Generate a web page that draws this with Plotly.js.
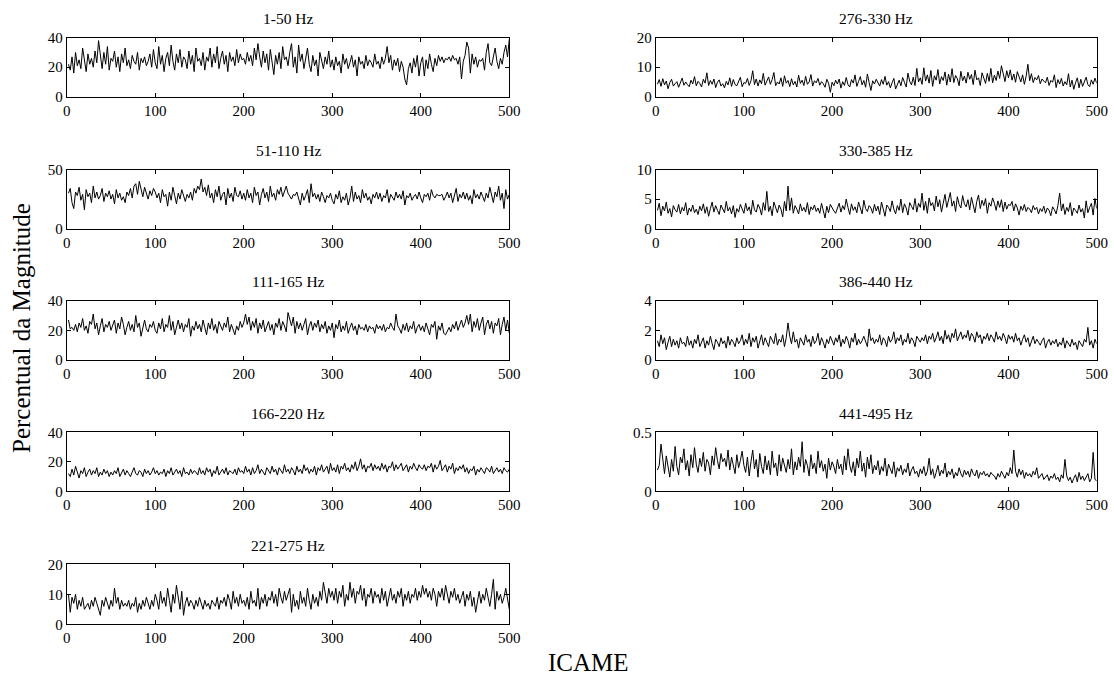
<!DOCTYPE html>
<html>
<head>
<meta charset="utf-8">
<script src="https://cdn.plot.ly/plotly-3.0.1.min.js"></script>
<style>html,body{margin:0;padding:0;background:#fff;}#chart{width:1114px;height:675px;}</style>
</head>
<body>
<div id="chart"></div>
<script>
// Sample index step (ICAME) : each value covers 2 ICAME units
const titles = ["1-50 Hz","51-110 Hz","111-165 Hz","166-220 Hz","221-275 Hz","276-330 Hz","330-385 Hz","386-440 Hz","441-495 Hz"];
const yMax = [40,50,40,40,20,20,10,4,0.5];
const yTicks = [[0,20,40],[0,50],[0,20,40],[0,20,40],[0,10,20],[0,10,20],[0,5,10],[0,2,4],[0,0.5]];
const xTicks = [0,100,200,300,400,500];

const s1 = [22,18,27,16,30,21,25,19,33,24,17,29,22,26,20,31,23,38,28,19,30,22,34,18,26,
24,31,20,27,17,29,23,33,21,25,19,28,24,22,30,18,26,23,27,21,24,29,20,32,23,
19,34,22,28,17,26,30,21,35,24,18,29,23,32,20,27,25,19,31,22,28,17,33,24,26,
21,30,18,27,24,33,20,29,23,34,19,26,31,22,28,17,30,24,27,21,32,23,29,25,26,
22,30,24,28,21,33,25,36,27,20,31,23,29,18,32,24,15,28,22,30,19,34,25,27,21,
30,36,20,27,16,35,24,29,19,26,33,22,17,28,21,25,14,30,23,19,27,22,31,20,25,
18,27,21,24,16,29,22,26,19,23,28,20,25,14,27,22,24,19,28,21,25,23,20,29,22,
24,19,27,22,26,34,23,28,18,25,21,26,17,24,20,12,8,19,23,16,26,20,28,14,23,
27,14,25,19,29,22,17,26,21,28,24,27,23,26,25,27,24,28,25,26,22,27,12,24,28,
37,33,16,29,22,27,20,25,24,26,18,30,36,23,21,28,33,24,19,26,22,30,35,27,39];

const s2 = [30,34,22,17,31,28,35,24,29,16,33,27,30,22,36,26,31,25,28,34,23,30,27,32,25,
29,21,33,26,30,24,27,22,31,28,34,26,36,38,29,40,33,27,35,30,25,32,28,34,31,
26,30,22,33,27,29,19,31,24,35,28,21,30,25,33,27,23,29,26,31,24,34,30,36,33,
42,31,35,28,37,26,30,22,33,27,36,24,29,31,20,34,26,30,23,35,28,27,32,25,30,
24,33,26,30,22,35,28,31,20,29,34,26,31,23,36,27,30,24,33,29,35,27,31,36,30,
27,25,29,28,31,26,20,30,24,28,33,22,38,27,30,25,29,23,31,27,22,28,26,30,24,
21,29,25,32,22,27,24,30,20,26,36,23,31,25,28,22,33,26,30,24,27,21,29,26,31,
25,30,23,28,26,33,22,29,27,24,31,26,29,25,32,20,28,26,30,24,27,29,25,31,26,
22,29,27,30,24,33,28,26,29,28,28,29,24,27,31,26,30,22,28,34,23,29,26,31,25,
30,24,28,21,33,26,29,25,31,27,23,30,26,35,28,22,31,27,36,24,30,17,33,25,29];

const s3 = [27,21,22,20,24,19,25,22,28,20,23,18,26,24,31,21,25,17,23,28,19,24,22,26,20,
23,27,18,25,21,29,24,17,22,26,20,24,19,30,22,25,16,23,27,21,19,24,22,26,20,
18,25,21,28,19,24,22,30,20,26,17,23,27,21,25,19,24,22,28,16,23,20,26,21,24,
19,27,22,17,25,21,28,20,24,18,26,23,20,25,22,29,19,24,21,17,23,20,26,22,25,
31,24,29,20,26,22,28,18,25,21,27,19,23,26,20,24,17,25,22,28,20,26,23,19,32,
27,23,29,18,26,21,25,20,24,28,17,23,26,20,25,22,27,19,24,21,26,18,23,20,25,
15,24,21,27,19,23,20,26,18,22,25,20,23,17,24,21,22,20,24,19,23,21,22,18,24,
21,23,20,24,19,22,21,25,22,20,31,23,21,18,24,20,25,19,23,21,26,18,22,24,20,
23,19,25,21,17,24,22,26,14,23,20,25,18,17,20,22,19,24,21,26,20,23,27,22,25,
30,24,31,19,26,22,28,20,25,29,17,24,27,21,26,18,25,23,28,17,24,29,20,27,18];

const s4 = [12,10,15,11,17,13,9,14,12,16,10,13,15,11,14,12,16,10,13,11,15,12,14,10,13,
11,14,12,16,10,13,15,11,14,12,10,13,16,12,11,14,13,10,15,12,14,11,13,16,12,
14,11,13,12,15,10,14,12,16,11,13,15,12,14,10,16,12,13,11,15,12,14,13,11,16,
12,14,11,16,13,15,10,14,12,17,11,13,15,12,16,11,14,13,12,15,11,16,13,14,12,
17,13,15,11,16,12,14,18,12,15,13,11,16,14,12,17,13,15,11,16,14,12,18,13,15,
12,16,14,11,17,13,15,12,18,14,16,12,15,13,17,11,16,14,18,13,15,17,12,19,14,
16,13,18,12,17,15,19,14,16,13,18,15,20,14,17,22,15,18,13,17,16,19,14,18,15,
17,14,19,15,18,13,17,16,20,14,18,15,17,19,14,16,18,13,17,15,19,16,14,18,16,
15,18,14,17,16,19,13,18,15,17,21,14,16,18,13,17,15,19,12,16,14,17,15,18,13,
16,12,15,14,17,11,15,13,16,14,12,16,15,13,17,12,14,16,13,15,12,16,14,13,15];

const s5 = [10,4,9,7,10,5,8,6,9,5,6,7,5,8,6,9,7,5,3,8,6,9,7,5,8,
6,12,7,9,5,8,6,7,6,8,5,7,6,9,4,7,5,8,6,9,7,5,8,6,10,
8,5,11,7,9,6,12,8,4,10,7,13,9,5,11,3,7,9,6,8,7,5,8,6,9,
7,5,8,6,7,5,8,7,6,9,5,8,7,9,6,10,8,5,11,7,9,6,10,7,8,
6,9,5,11,7,8,6,12,5,9,7,10,6,9,8,11,7,10,6,12,9,7,11,8,10,
12,4,10,6,8,5,11,7,9,6,12,8,5,10,7,9,6,11,8,14,10,7,12,9,11,
8,12,7,11,9,13,6,10,8,14,9,12,7,11,10,13,8,12,6,10,9,12,7,11,9,
10,7,12,8,11,6,9,12,8,10,7,11,9,12,6,10,8,11,7,10,9,12,8,11,9,
13,10,12,9,11,8,12,10,6,11,9,12,8,13,10,7,11,9,12,8,10,7,9,11,6,
10,8,11,6,9,4,8,11,7,10,8,12,9,6,10,15,5,11,8,10,7,9,12,8,5];

const s6 = [4.2,5.8,3.5,6.1,4.0,5.3,2.7,4.8,5.9,3.6,4.4,5.1,3.2,4.7,6.3,3.9,5.0,4.1,3.4,5.6,4.3,6.8,3.7,5.2,4.5,
3.3,5.9,4.6,8.1,3.8,5.5,4.2,6.0,3.1,4.9,5.7,3.6,4.4,3.0,5.2,4.0,6.4,3.5,5.8,4.1,3.7,5.0,6.6,3.4,4.8,
4.5,6.2,3.8,5.4,8.8,4.1,6.0,3.6,5.7,4.4,7.9,3.9,5.3,6.7,4.2,5.8,8.2,3.7,5.0,4.3,6.4,3.5,7.1,4.6,5.5,
3.4,6.1,4.0,5.2,3.3,7.3,4.5,5.6,3.8,6.9,4.2,5.0,7.5,3.6,5.4,4.7,6.2,3.9,5.1,4.4,3.2,5.9,4.6,1.5,4.9,
3.7,5.6,4.3,6.0,2.9,5.1,3.8,6.5,4.1,3.3,5.8,4.6,7.4,3.5,5.2,6.8,4.0,5.5,3.2,7.7,4.8,2.1,5.4,4.3,5.9,
4.5,3.6,5.8,4.2,6.9,3.9,5.1,3.0,4.7,6.2,2.6,4.4,5.6,3.7,6.5,4.9,3.3,8.0,5.2,4.0,6.6,3.8,9.6,5.0,6.4,
4.2,9.8,5.3,7.4,4.6,8.9,3.5,7.1,5.6,9.2,4.3,6.8,5.5,8.4,3.9,7.6,5.0,9.5,4.8,7.2,6.1,3.7,8.6,5.4,7.0,
4.6,8.3,5.9,7.5,4.1,9.0,5.7,6.4,3.8,8.1,6.0,4.5,7.9,5.2,9.6,4.7,7.3,5.5,8.7,6.2,10.5,7.6,5.1,8.8,6.4,
9.1,5.6,7.7,4.9,8.5,6.3,5.0,7.4,4.2,6.9,11.0,5.4,7.8,4.8,6.5,5.7,7.2,4.4,6.0,5.3,4.7,6.6,3.8,5.5,4.9,
7.4,3.1,5.8,4.3,6.2,3.6,5.1,4.0,7.8,3.3,5.6,2.5,4.7,6.4,3.0,5.9,3.5,4.8,6.6,4.1,3.4,5.7,4.2,6.3,4.6];

const s7 = [3.1,4.3,2.2,3.8,3.0,4.5,2.6,3.4,2.0,3.9,3.2,2.8,4.1,2.5,3.6,3.0,4.4,2.3,3.5,2.9,4.0,2.7,3.3,2.4,3.8,
3.0,4.2,2.6,3.7,2.1,3.4,4.5,2.8,3.9,3.1,2.4,4.0,3.3,2.7,4.6,3.0,3.6,2.5,3.9,1.9,3.4,2.8,4.1,3.2,2.6,
4.3,3.0,3.7,2.4,4.8,3.2,2.8,4.1,3.5,2.3,4.4,3.1,6.3,2.9,3.8,2.2,4.5,3.4,2.7,4.0,3.3,2.0,4.6,3.0,7.2,
3.1,5.2,2.6,3.9,3.3,2.5,4.2,3.0,3.6,2.8,4.4,2.4,3.7,3.2,4.0,2.9,3.5,2.6,4.3,3.1,1.8,3.8,2.7,4.1,3.4,
3.0,2.6,3.5,4.3,2.8,3.9,3.2,5.0,3.6,2.4,4.2,3.1,3.7,2.7,4.5,3.3,2.5,4.8,3.4,2.9,3.9,3.5,2.6,4.1,3.0,
3.8,2.4,4.5,3.2,2.1,4.0,3.6,2.9,4.7,3.3,2.5,3.9,3.1,5.0,2.7,4.2,3.5,2.3,4.4,3.8,3.2,5.1,2.8,4.3,3.6,
6.0,3.1,4.6,2.6,5.2,3.9,4.4,3.0,5.5,3.7,4.9,2.8,4.3,5.8,3.6,5.0,6.1,3.8,4.7,2.9,5.4,4.1,3.5,5.6,4.2,
3.7,4.9,3.2,5.3,4.0,2.7,4.6,5.7,3.4,4.8,3.9,5.1,2.6,4.4,3.8,5.2,4.3,3.1,4.7,3.6,4.9,2.9,4.5,3.3,4.1,
3.9,4.6,3.0,4.2,3.5,2.3,3.8,3.1,4.1,2.9,3.6,3.3,2.7,3.9,3.2,3.6,2.5,3.4,2.9,3.8,2.6,3.5,3.1,2.2,3.7,
3.2,2.5,3.9,6.0,3.0,4.2,2.4,3.6,2.9,4.4,2.2,3.5,3.1,2.6,4.0,2.8,3.4,1.8,4.7,2.7,3.6,4.3,2.3,5.1,3.4];

const s8 = [1.3,0.9,1.7,1.1,1.5,0.7,1.2,1.6,0.9,1.4,1.0,1.3,0.8,1.5,1.1,1.2,0.9,1.6,1.0,1.3,0.8,1.4,1.1,1.7,0.9,
1.2,1.5,0.8,1.3,1.0,1.6,1.1,0.7,1.4,1.2,0.9,1.5,1.1,1.3,0.8,1.6,1.0,1.4,1.2,0.9,1.5,1.1,1.3,1.7,1.0,
1.4,1.1,1.8,0.9,1.5,1.2,1.6,0.8,1.3,1.7,1.0,1.5,1.2,0.9,1.6,1.3,1.1,1.8,1.0,1.4,1.2,1.7,0.9,1.5,2.5,
1.6,1.1,1.9,1.2,1.4,0.8,1.5,1.3,1.0,1.7,1.2,1.4,0.9,1.6,1.1,1.3,1.8,1.0,1.5,1.2,0.8,1.4,1.1,1.6,1.3,
1.0,1.5,1.2,1.7,0.9,1.4,1.1,1.6,1.3,0.8,1.5,1.2,1.8,1.0,1.4,1.1,1.3,1.6,1.2,0.9,2.1,1.3,1.5,1.1,1.4,
1.2,1.7,1.0,1.5,1.3,0.9,1.6,1.2,1.4,1.9,1.1,1.5,1.3,1.7,1.0,1.4,1.2,1.8,1.1,1.5,1.3,0.9,1.6,1.4,1.2,
1.5,1.3,1.7,1.1,1.6,1.4,1.8,1.2,1.5,1.9,1.3,1.6,1.1,2.0,1.4,1.7,1.2,1.8,1.5,2.1,1.3,1.6,1.9,1.4,1.7,
1.5,2.0,1.3,1.8,1.6,1.2,1.9,1.5,1.7,1.1,1.6,1.4,1.8,1.3,1.7,1.5,1.2,1.9,1.4,1.6,1.3,1.8,1.5,1.1,1.7,
1.4,1.6,1.2,1.8,1.3,1.5,1.0,1.4,1.7,1.2,1.5,0.9,1.3,1.6,1.1,1.4,1.2,1.0,1.3,1.5,0.8,1.2,1.4,1.0,1.3,
1.1,1.4,0.9,1.2,1.0,1.5,0.8,1.3,1.1,0.9,1.4,1.0,1.2,0.7,1.3,1.1,0.9,1.4,1.2,2.2,1.0,1.3,0.8,1.4,1.1];

const s9 = [0.18,0.22,0.40,0.25,0.15,0.30,0.19,0.12,0.27,0.17,0.38,0.21,0.14,0.29,0.24,0.36,0.18,0.26,0.13,0.31,0.20,0.37,0.23,0.16,0.28,
0.21,0.33,0.17,0.27,0.24,0.14,0.30,0.22,0.37,0.26,0.19,0.32,0.25,0.28,0.21,0.35,0.18,0.29,0.23,0.15,0.31,0.20,0.26,0.34,0.22,
0.16,0.29,0.13,0.25,0.35,0.19,0.27,0.12,0.32,0.21,0.15,0.30,0.18,0.26,0.14,0.34,0.20,0.24,0.13,0.31,0.17,0.28,0.22,0.16,0.27,
0.19,0.36,0.14,0.25,0.18,0.29,0.21,0.42,0.16,0.27,0.22,0.13,0.31,0.19,0.24,0.15,0.34,0.20,0.26,0.17,0.23,0.11,0.28,0.18,0.25,
0.21,0.15,0.27,0.19,0.23,0.14,0.30,0.18,0.36,0.22,0.16,0.25,0.13,0.28,0.20,0.34,0.17,0.24,0.12,0.29,0.19,0.31,0.15,0.22,0.18,
0.26,0.14,0.21,0.17,0.28,0.13,0.23,0.19,0.15,0.25,0.12,0.20,0.17,0.22,0.14,0.19,0.16,0.24,0.13,0.18,0.21,0.15,0.17,0.12,0.19,
0.15,0.21,0.13,0.17,0.28,0.14,0.19,0.11,0.16,0.22,0.13,0.18,0.15,0.24,0.12,0.17,0.14,0.19,0.11,0.16,0.13,0.20,0.15,0.12,0.18,
0.14,0.17,0.12,0.19,0.15,0.13,0.18,0.11,0.16,0.14,0.17,0.13,0.15,0.12,0.16,0.14,0.13,0.10,0.15,0.12,0.17,0.14,0.11,0.16,0.13,
0.20,0.15,0.35,0.17,0.12,0.19,0.14,0.18,0.11,0.16,0.13,0.15,0.12,0.17,0.14,0.20,0.11,0.13,0.15,0.10,0.12,0.14,0.09,0.13,0.11,
0.15,0.10,0.12,0.08,0.14,0.11,0.27,0.13,0.09,0.12,0.07,0.11,0.14,0.08,0.16,0.10,0.13,0.09,0.12,0.15,0.08,0.11,0.33,0.10,0.09];

const series = [s1,s2,s3,s4,s5,s6,s7,s8,s9];

// ---- layout geometry (pixels) ----
const W = 1114, H = 675;
const colX = [[66.7,509.3],[655.7,1096.7]];
const rowY = [[37.7,96.7],[169.5,228.7],[300.7,360],[432.3,491.3],[564.3,624.3]];
const cells = [[0,0],[0,1],[0,2],[0,3],[0,4],[1,0],[1,1],[1,2],[1,3]];
const FONT = "Liberation Serif, Times New Roman, serif";

const traces = [];
const layout = {
  width: W, height: H,
  margin: {l:0, r:0, t:0, b:0},
  paper_bgcolor: "#fff", plot_bgcolor: "#fff",
  showlegend: false,
  font: {family: FONT, size: 15, color: "#000"},
  annotations: []
};

series.forEach((s, k) => {
  const n = k + 1;
  const xa = n === 1 ? "xaxis" : "xaxis" + n;
  const ya = n === 1 ? "yaxis" : "yaxis" + n;
  const xs = s.map((_, i) => 2 * (i + 1));
  traces.push({
    x: xs, y: s, type: "scatter", mode: "lines",
    xaxis: "x" + (n === 1 ? "" : n), yaxis: "y" + (n === 1 ? "" : n),
    line: {color: "#000", width: 1}, hoverinfo: "skip"
  });
  const [c, r] = cells[k];
  const xd = [colX[c][0] / W, colX[c][1] / W];
  const yd = [1 - rowY[r][1] / H, 1 - rowY[r][0] / H];
  const common = {
    showline: true, linecolor: "#000", linewidth: 1, mirror: "ticks",
    ticks: "inside", ticklen: 4, tickwidth: 1, tickcolor: "#000",
    showgrid: false, zeroline: false, fixedrange: true,
    tickfont: {family: FONT, size: 15, color: "#000"}
  };
  layout[xa] = Object.assign({}, common, {
    domain: xd, anchor: "y" + (n === 1 ? "" : n), range: [0, 500],
    tickmode: "array", tickvals: xTicks, ticktext: xTicks.map(String)
  });
  layout[ya] = Object.assign({}, common, {
    domain: yd, anchor: "x" + (n === 1 ? "" : n), range: [0, yMax[k]],
    tickmode: "array", tickvals: yTicks[k], ticktext: yTicks[k].map(String)
  });
  layout.annotations.push({
    text: titles[k], xref: "paper", yref: "paper",
    x: (xd[0] + xd[1]) / 2, y: 1 - (rowY[r][0] - 19) / H,
    xanchor: "center", yanchor: "middle", showarrow: false,
    font: {family: FONT, size: 15.5, color: "#000"}
  });
});

layout.annotations.push({
  text: "Percentual da Magnitude", xref: "paper", yref: "paper",
  x: 22 / W, y: 1 - 328 / H, textangle: -90,
  xanchor: "center", yanchor: "middle", showarrow: false,
  font: {family: FONT, size: 25, color: "#000"}
});
layout.annotations.push({
  text: "ICAME", xref: "paper", yref: "paper",
  x: 588 / W, y: 1 - 662 / H,
  xanchor: "center", yanchor: "middle", showarrow: false,
  font: {family: FONT, size: 25, color: "#000"}
});

Plotly.newPlot("chart", traces, layout, {staticPlot: true, displayModeBar: false});
</script>
</body>
</html>
